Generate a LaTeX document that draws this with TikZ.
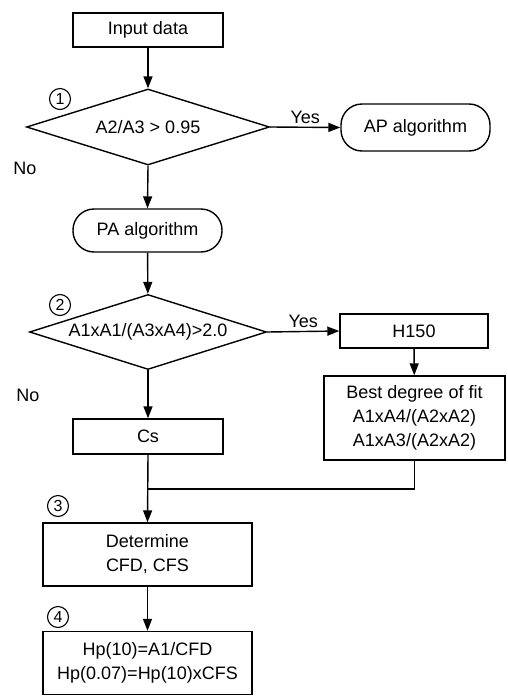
\documentclass[tikz,border=0pt]{standalone}
\usepackage{fontspec}
\setmainfont{Liberation Sans}
\usepackage{tikz}
\usetikzlibrary{arrows.meta,positioning,shapes.geometric}

\begin{document}
\begin{tikzpicture}[x=1pt,y=-1pt,line width=1.4pt,
    every node/.style={font=\fontsize{18}{24}\selectfont},
    box/.style={draw,rectangle,inner sep=0pt,align=center},
    term/.style={draw,rectangle,rounded corners=21pt,inner sep=0pt},
    cond/.style={draw,diamond,aspect=3.2,inner sep=0pt},
    num/.style={draw,circle,line width=1.1pt,minimum size=21pt,inner sep=0pt,
      font=\fontsize{16}{16}\selectfont},
    arr/.style={-{Triangle[length=12pt,width=9pt]}}]
  \useasboundingbox (0,0) rectangle (507,699);
  \node[box,minimum width=150pt,minimum height=34pt] (input) at (148,30) {Input data};
  \node[cond,minimum width=243pt,minimum height=76pt] (dec1) at (148,127) {A2/A3 > 0.95};
  \node[term,minimum width=149pt,minimum height=47pt] (ap) at (415.5,127.5) {AP algorithm};
  \node[term,minimum width=149pt,minimum height=43pt] (pa) at (147.5,230.5) {PA algorithm};
  \node[cond,minimum width=237pt,minimum height=75pt] (dec2) at (148,332) {A1xA1/(A3xA4)>2.0};
  \node[box,minimum width=148pt,minimum height=34pt] (hsf) at (414,331) {H150};
  \node[box,minimum width=181pt,minimum height=84pt] (fit) at (414.5,418)
     {Best degree of fit\\A1xA4/(A2xA2)\\A1xA3/(A2xA2)};
  \node[box,minimum width=150pt,minimum height=35pt] (cs) at (148,436.5) {Cs};
  \node[box,minimum width=209pt,minimum height=63pt] (det) at (147.5,554.5) {Determine\\CFD, CFS};
  \node[box,minimum width=209pt,minimum height=63pt] (hp) at (147.5,663)
     {Hp(10)=A1/CFD\\Hp(0.07)=Hp(10)xCFS};
  \coordinate (join) at (148,489);
  % step numbers and branch labels
  \node[num] (n1) at (60,99) {1};
  \node[num] (n2) at (60,305) {2};
  \node[num] (n3) at (58,506) {3};
  \node[num] (n4) at (58,617) {4};
  \node (no1) at (25,168) {No};
  \node (no2) at (28,395) {No};
  % connectors
  \draw[arr] (input) -- (dec1);
  \draw[arr] (dec1.east) -- (ap.west) node[midway,above] (yes1) {Yes};
  \draw[arr] (dec1.south) -- (pa.north);
  \draw[arr] (pa) -- (dec2);
  \draw[arr] (dec2.east) -- (hsf.west) node[midway,above] (yes2) {Yes};
  \draw[arr] (hsf) -- (fit);
  \draw[arr] (dec2.south) -- (cs.north);
  \draw (fit.south) |- (join);
  \draw[arr] (cs.south) -- (det.north);
  \draw[arr] (det) -- (hp);
\end{tikzpicture}
\end{document}
